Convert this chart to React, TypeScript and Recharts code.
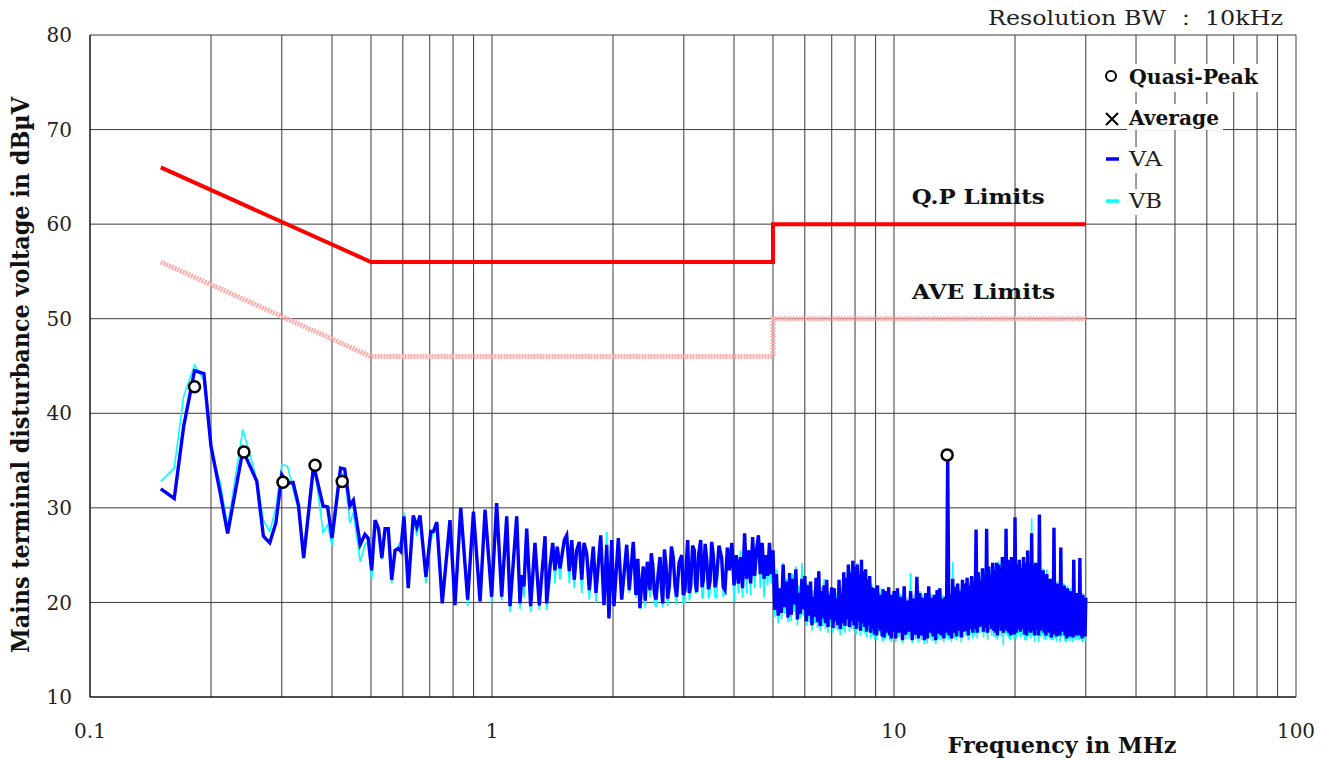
import React from 'react';
import {
    ComposedChart,
    Line,
    Scatter,
    XAxis,
    YAxis,
    CartesianGrid,
    Legend,
    ReferenceDot
} from 'recharts';

const FONT = "'DejaVu Serif', serif";

// measured sweep, MHz
const FREQ_MHZ = [
    0.15, 0.162, 0.171, 0.182, 0.192, 0.2, 0.211, 0.22, 0.24, 0.26,
    0.27, 0.28, 0.29, 0.3, 0.31, 0.32, 0.33, 0.34, 0.36, 0.38,
    0.39, 0.4, 0.42, 0.43, 0.443, 0.452, 0.47, 0.483, 0.492, 0.502,
    0.512, 0.522, 0.532, 0.542, 0.552, 0.563, 0.574, 0.585, 0.593, 0.604,
    0.619, 0.637, 0.65, 0.662, 0.685, 0.704, 0.715, 0.729, 0.752, 0.786,
    0.809, 0.836, 0.87, 0.899, 0.934, 0.961, 0.998, 1.027, 1.057, 1.088,
    1.109, 1.152, 1.174, 1.186, 1.201, 1.22, 1.248, 1.279, 1.311, 1.355,
    1.368, 1.394, 1.416, 1.434, 1.453, 1.476, 1.513, 1.534, 1.557, 1.579,
    1.602, 1.624, 1.649, 1.672, 1.694, 1.72, 1.746, 1.786, 1.814, 1.864,
    1.899, 1.929, 1.954, 1.985, 2.011, 2.062, 2.102, 2.163, 2.195, 2.246,
    2.281, 2.305, 2.334, 2.357, 2.379, 2.405, 2.434, 2.472, 2.49, 2.511,
    2.535, 2.559, 2.59, 2.618, 2.64, 2.659, 2.685, 2.709, 2.735, 2.761,
    2.795, 2.825, 2.852, 2.88, 2.92, 2.964, 2.99, 3.021, 3.045, 3.068,
    3.095, 3.121, 3.155, 3.186, 3.208, 3.23, 3.268, 3.305, 3.33, 3.355,
    3.39, 3.421, 3.455, 3.486, 3.52, 3.552, 3.588, 3.622, 3.67, 3.727,
    3.76, 3.798, 3.85, 3.894, 3.95, 4.0,
    4.05, 4.1, 4.15, 4.2, 4.25, 4.3, 4.35, 4.4, 4.45, 4.5,
    4.55, 4.6, 4.65, 4.7, 4.75, 4.8, 4.85, 4.9, 4.95, 5.0,
    5.05, 5.1, 5.15, 5.2, 5.25, 5.3, 5.35, 5.4, 5.45, 5.5,
    5.55, 5.6, 5.65, 5.7, 5.75, 5.8, 5.85, 5.9, 5.95, 6.0,
    6.05, 6.1, 6.15, 6.2, 6.25, 6.3, 6.35, 6.4, 6.45, 6.5,
    6.55, 6.6, 6.65, 6.7, 6.75, 6.8, 6.85, 6.9, 6.95, 7.0,
    7.05, 7.1, 7.15, 7.2, 7.25, 7.3, 7.35, 7.4, 7.45, 7.5,
    7.55, 7.6, 7.65, 7.7, 7.75, 7.8, 7.85, 7.9, 7.95, 8.0,
    8.05, 8.1, 8.15, 8.2, 8.25, 8.3, 8.35, 8.4, 8.45, 8.5,
    8.55, 8.6, 8.65, 8.7, 8.75, 8.8, 8.85, 8.9, 8.95, 9.0,
    9.05, 9.1, 9.15, 9.2, 9.25, 9.3, 9.35, 9.4, 9.45, 9.5,
    9.55, 9.6, 9.65, 9.7, 9.75, 9.8, 9.85, 9.9, 9.95, 10.0,
    10.1, 10.2, 10.3, 10.4, 10.5, 10.6, 10.7, 10.8, 10.9, 11.0,
    11.1, 11.2, 11.3, 11.4, 11.5, 11.6, 11.7, 11.8, 11.9, 12.0,
    12.1, 12.2, 12.3, 12.4, 12.5, 12.6, 12.7, 12.8, 12.9, 13.0,
    13.1, 13.2, 13.3, 13.4, 13.5, 13.6, 13.7, 13.8, 13.9, 14.0,
    14.1, 14.2, 14.3, 14.4, 14.5, 14.6, 14.7, 14.8, 14.9, 15.0,
    15.1, 15.2, 15.3, 15.4, 15.5, 15.6, 15.7, 15.8, 15.9, 16.0,
    16.1, 16.2, 16.3, 16.4, 16.5, 16.6, 16.7, 16.8, 16.9, 17.0,
    17.1, 17.2, 17.3, 17.4, 17.5, 17.6, 17.7, 17.8, 17.9, 18.0,
    18.1, 18.2, 18.3, 18.4, 18.5, 18.6, 18.7, 18.8, 18.9, 19.0,
    19.1, 19.2, 19.3, 19.4, 19.5, 19.6, 19.7, 19.8, 19.9, 20.0,
    20.125, 20.25, 20.375, 20.5, 20.625, 20.75, 20.875, 21.0, 21.125, 21.25,
    21.375, 21.5, 21.625, 21.75, 21.875, 22.0, 22.125, 22.25, 22.375, 22.5,
    22.625, 22.75, 22.875, 23.0, 23.125, 23.25, 23.375, 23.5, 23.625, 23.75,
    23.875, 24.0, 24.125, 24.25, 24.375, 24.5, 24.625, 24.75, 24.875, 25.0,
    25.125, 25.25, 25.375, 25.5, 25.625, 25.75, 25.875, 26.0, 26.125, 26.25,
    26.375, 26.5, 26.625, 26.75, 26.875, 27.0, 27.125, 27.25, 27.375, 27.5,
    27.625, 27.75, 27.875, 28.0, 28.125, 28.25, 28.375, 28.5, 28.625, 28.75,
    28.875, 29.0, 29.125, 29.25, 29.375, 29.5, 29.625, 29.75, 29.875, 30.0
];

// dBuV, line VA
const VA_LEVEL = [
    32.0, 31.0, 38.6, 44.5, 44.2, 36.5, 31.5, 27.3, 36.1, 32.8,
    27.0, 26.3, 28.4, 33.5, 32.6, 32.7, 30.3, 24.7, 34.5, 30.2,
    30.1, 26.8, 34.2, 34.1, 30.2, 30.8, 26.1, 27.2, 26.8, 23.4,
    28.7, 27.8, 24.7, 27.8, 27.8, 22.4, 25.5, 25.7, 25.4, 29.1,
    21.5, 29.2, 28.0, 29.2, 22.7, 27.5, 27.5, 28.5, 19.9, 28.7,
    19.7, 30.0, 20.3, 29.6, 20.1, 29.8, 20.6, 30.5, 20.6, 29.1,
    19.6, 29.1, 19.9, 22.9, 21.7, 27.8, 19.6, 26.3, 19.7, 27.0,
    19.9, 23.8, 26.3, 23.4, 25.9, 23.6, 26.6, 27.1, 23.3, 26.6,
    22.4, 25.5, 26.4, 22.4, 26.3, 25.2, 21.3, 25.9, 21.0, 27.1,
    19.7, 26.1, 18.3, 26.6, 19.6, 26.8, 20.3, 26.1, 21.3, 26.4,
    20.8, 24.6, 19.4, 22.0, 23.8, 20.2, 24.3, 21.3, 25.2, 24.0,
    21.0, 20.3, 23.0, 24.8, 21.5, 19.9, 25.6, 24.0, 20.4, 21.7,
    25.9, 24.7, 21.8, 20.6, 24.2, 25.0, 20.8, 21.3, 24.4, 26.6,
    21.0, 21.7, 26.0, 25.5, 22.0, 21.1, 25.2, 26.6, 21.6, 22.4,
    26.2, 24.5, 21.4, 22.2, 26.4, 25.0, 21.6, 22.7, 26.0, 24.7,
    21.6, 21.3, 25.8, 23.4, 26.3, 21.8,
    25.0, 22.0, 24.8, 21.5, 27.3, 22.5, 25.5, 22.0, 26.9, 22.8,
    25.5, 27.1, 23.0, 26.3, 22.5, 25.0, 22.8, 26.3, 23.0, 25.5,
    19.2, 23.0, 18.6, 21.5, 18.9, 24.0, 19.5, 22.2, 18.4, 23.1,
    18.7, 22.5, 19.8, 23.5, 18.2, 21.0, 18.8, 22.5, 19.3, 22.8,
    18.0, 21.8, 18.6, 22.2, 17.6, 20.6, 18.5, 22.6, 17.9, 23.3,
    17.5, 21.2, 18.3, 21.8, 17.8, 22.4, 17.4, 20.8, 18.2, 21.6,
    17.3, 21.5, 18.0, 20.4, 17.6, 22.4, 17.2, 21.0, 17.8, 23.2,
    17.5, 22.6, 18.2, 24.0, 17.4, 23.2, 18.0, 24.4, 17.6, 23.8,
    17.2, 24.0, 18.0, 23.0, 17.0, 24.5, 17.8, 23.3, 17.4, 23.5,
    16.9, 22.4, 17.6, 22.8, 16.8, 21.6, 17.2, 21.5, 16.6, 21.2,
    16.5, 21.8, 17.3, 20.6, 17.0, 20.8, 16.4, 21.4, 16.3, 21.2,
    16.8, 20.4, 17.2, 21.6, 16.5, 20.2, 16.2, 20.8, 16.9, 21.2,
    16.2, 21.5, 16.8, 20.6, 16.0, 21.7, 16.6, 20.2, 16.9, 21.2,
    16.0, 20.4, 16.6, 22.7, 16.2, 21.0, 16.5, 20.5, 16.0, 21.0,
    16.2, 21.7, 16.8, 20.5, 16.4, 20.8, 16.0, 21.3, 16.7, 21.5,
    16.5, 20.4, 16.2, 20.6, 16.8, 35.2, 16.5, 20.8, 16.2, 22.5,
    16.8, 21.6, 16.4, 22.0, 17.0, 21.2, 16.3, 22.4, 16.9, 22.0,
    17.0, 22.6, 16.5, 21.8, 17.2, 22.8, 16.8, 22.2, 17.2, 27.7,
    16.8, 23.2, 17.4, 22.4, 17.5, 23.6, 16.9, 23.0, 17.3, 27.8,
    16.8, 23.8, 17.6, 23.0, 17.2, 24.2, 17.0, 23.4, 16.8, 24.2,
    16.5, 24.0, 17.5, 23.6, 17.0, 24.8, 16.8, 24.0, 17.3, 27.8,
    17.0, 24.5, 16.8, 23.8, 16.5, 24.8, 17.2, 24.2, 16.6, 29.0,
    16.8, 24.0, 17.2, 24.5, 16.9, 23.6, 17.2, 24.8, 16.6, 24.2,
    16.5, 25.5, 17.0, 24.0, 16.8, 27.3, 17.0, 23.8, 16.5, 24.2,
    17.2, 23.5, 16.5, 29.3, 17.0, 23.0, 17.2, 23.4, 16.8, 22.8,
    16.5, 23.0, 17.0, 22.2, 16.8, 22.5, 16.3, 22.0, 16.6, 27.9,
    16.8, 21.8, 16.4, 22.0, 17.0, 21.5, 16.5, 25.8, 16.9, 21.6,
    17.0, 21.8, 16.5, 21.2, 16.2, 21.5, 16.8, 21.0, 16.4, 21.2,
    16.8, 20.8, 16.3, 24.5, 16.8, 20.6, 16.5, 21.0, 16.9, 20.4,
    16.5, 24.7, 16.8, 20.6, 16.2, 20.8, 16.9, 20.2, 16.4, 20.5
];

// dBuV, line VB
const VB_LEVEL = [
    32.8, 34.2, 41.8, 45.1, 43.5, 36.0, 32.6, 28.0, 38.3, 33.0,
    28.7, 27.5, 30.0, 34.6, 34.4, 32.0, 29.8, 24.9, 35.2, 27.4,
    28.2, 26.0, 33.6, 33.5, 28.4, 29.5, 24.3, 26.1, 26.5, 22.4,
    28.0, 27.5, 24.5, 27.8, 27.6, 22.0, 25.2, 26.0, 26.5, 29.5,
    22.5, 29.2, 27.0, 29.0, 22.0, 26.5, 27.5, 28.5, 20.3, 28.5,
    19.7, 29.8, 19.6, 29.6, 20.1, 29.8, 20.0, 30.5, 20.2, 29.1,
    19.0, 29.1, 19.3, 22.9, 20.5, 27.8, 19.0, 26.3, 19.2, 27.0,
    19.2, 22.5, 26.3, 22.0, 25.9, 22.4, 26.6, 27.0, 22.0, 26.2,
    21.5, 25.3, 26.2, 21.0, 26.0, 25.0, 20.3, 25.8, 20.0, 27.1,
    19.8, 27.5, 18.5, 26.6, 20.0, 26.8, 20.5, 26.1, 21.0, 26.3,
    20.5, 24.6, 19.3, 21.2, 23.8, 19.4, 24.0, 20.5, 25.2, 24.0,
    20.0, 19.5, 22.5, 24.5, 20.6, 19.5, 25.6, 24.0, 19.6, 21.0,
    25.9, 24.7, 20.8, 19.8, 24.0, 25.0, 19.9, 20.0, 24.4, 26.6,
    20.2, 21.0, 26.0, 25.5, 21.0, 21.0, 25.2, 26.6, 20.5, 20.5,
    26.2, 24.5, 20.4, 21.0, 26.4, 25.0, 20.6, 20.5, 26.0, 24.7,
    20.6, 21.0, 25.8, 23.4, 26.0, 20.0,
    25.0, 21.0, 25.5, 20.5, 27.0, 21.0, 25.5, 20.8, 26.9, 21.5,
    25.0, 27.1, 21.5, 26.3, 20.5, 25.0, 21.8, 26.3, 22.0, 25.0,
    18.5, 23.5, 17.8, 21.0, 18.2, 24.2, 18.8, 22.5, 17.9, 23.0,
    18.0, 23.0, 19.0, 23.8, 17.6, 21.8, 18.3, 24.2, 18.6, 22.8,
    17.5, 22.0, 17.9, 22.0, 17.0, 21.3, 17.8, 22.6, 17.3, 23.3,
    17.0, 21.6, 17.5, 22.5, 17.2, 22.4, 16.8, 21.2, 17.5, 21.6,
    16.8, 21.5, 17.2, 21.0, 17.0, 22.4, 16.5, 21.6, 17.1, 23.0,
    16.8, 22.6, 17.5, 24.0, 16.9, 23.5, 17.2, 24.4, 17.0, 23.8,
    16.6, 24.2, 17.3, 23.4, 16.5, 24.5, 17.0, 23.3, 16.8, 23.5,
    16.3, 22.4, 17.0, 22.5, 16.2, 22.0, 16.5, 21.6, 16.0, 21.2,
    16.0, 21.8, 16.8, 21.0, 16.5, 21.5, 15.9, 21.4, 16.0, 21.2,
    16.2, 20.8, 16.6, 21.6, 16.0, 20.5, 15.8, 20.8, 16.3, 21.0,
    15.8, 21.0, 16.3, 20.9, 15.7, 21.7, 16.1, 20.5, 16.2, 23.1,
    15.7, 20.8, 16.1, 22.7, 15.8, 21.2, 16.0, 20.8, 15.6, 21.0,
    15.7, 21.5, 16.2, 20.9, 15.9, 20.8, 15.6, 21.3, 16.1, 21.5,
    16.0, 20.8, 15.8, 20.6, 16.2, 34.0, 16.0, 21.0, 15.8, 24.3,
    16.2, 21.8, 16.0, 22.0, 16.4, 21.5, 15.8, 22.4, 16.3, 22.0,
    16.5, 22.6, 16.0, 22.2, 16.6, 22.8, 16.2, 22.6, 16.5, 27.5,
    16.2, 23.2, 16.8, 22.8, 16.8, 23.6, 16.3, 23.5, 16.7, 27.6,
    16.0, 23.8, 17.0, 23.4, 16.5, 24.2, 16.4, 23.8, 16.2, 24.2,
    16.0, 24.4, 17.0, 24.0, 16.4, 24.8, 15.5, 24.4, 16.7, 27.8,
    16.5, 24.5, 16.2, 24.2, 16.0, 24.8, 16.5, 24.5, 16.0, 28.8,
    16.2, 24.0, 16.6, 24.5, 16.3, 24.0, 16.5, 24.8, 16.0, 24.2,
    16.0, 25.5, 16.4, 24.2, 16.2, 28.9, 16.5, 24.0, 15.9, 24.2,
    16.6, 23.5, 15.8, 29.0, 16.4, 23.4, 16.5, 23.6, 16.1, 23.0,
    16.0, 23.5, 16.4, 22.5, 16.2, 22.5, 16.0, 22.3, 16.0, 27.9,
    16.2, 22.0, 15.9, 22.3, 16.4, 21.8, 15.8, 25.8, 16.3, 22.0,
    16.5, 22.0, 15.9, 21.5, 15.8, 21.8, 16.2, 21.4, 15.9, 21.5,
    16.2, 21.0, 15.8, 24.5, 16.2, 21.0, 16.0, 21.0, 16.3, 20.8,
    16.0, 24.7, 16.2, 20.8, 15.8, 21.0, 16.3, 20.5, 15.9, 20.5
];

const QP_FREQ = [0.182, 0.2415, 0.302, 0.363, 0.424, 13.56];
const QP_LEVEL = [42.8, 35.9, 32.7, 34.5, 32.8, 35.6];

const QP_LIMIT_FREQ = [0.15, 0.5, 5, 5, 30];
const QP_LIMIT_LEVEL = [66, 56, 56, 60, 60];
const AVE_LIMIT_FREQ = [0.15, 0.5, 5, 5, 30];
const AVE_LIMIT_LEVEL = [56, 46, 46, 50, 50];

const X_TICKS = [
    0.1, 0.2, 0.3, 0.4, 0.5, 0.6, 0.7, 0.8, 0.9,
    1, 2, 3, 4, 5, 6, 7, 8, 9,
    10, 20, 30, 40, 50, 60, 70, 80, 90, 100
];
const X_LABELS: Record<string, string> = { '0.1': '0.1', '1': '1', '10': '10', '100': '100' };
const Y_TICKS = [10, 20, 30, 40, 50, 60, 70, 80];

const trace = FREQ_MHZ.map((f, i) => ({ f, va: VA_LEVEL[i], vb: VB_LEVEL[i] }));
const qpMarks = QP_FREQ.map((f, i) => ({ f, level: QP_LEVEL[i] }));
const qpLimit = QP_LIMIT_FREQ.map((f, i) => ({ f, level: QP_LIMIT_LEVEL[i] }));
const aveLimit = AVE_LIMIT_FREQ.map((f, i) => ({ f, level: AVE_LIMIT_LEVEL[i] }));

const renderYTitle = () => (
    <text
        transform="translate(29,375) rotate(-90)"
        textAnchor="middle"
        fontFamily={FONT}
        fontSize={24}
        fontWeight="bold"
        fill="#111"
        textLength={556}
        lengthAdjust="spacingAndGlyphs"
    >
        Mains terminal disturbance voltage in dBµV
    </text>
);

const renderXTitle = () => (
    <g>
        <text x={1062} y={753} textAnchor="middle" fontFamily={FONT} fontSize={23} fontWeight="bold"
            fill="#111" textLength={229} lengthAdjust="spacingAndGlyphs">
            Frequency in MHz
        </text>
        <text x={988} y={25} fontFamily={FONT} fontSize={20} fill="#222"
            textLength={295} lengthAdjust="spacingAndGlyphs">
            Resolution BW ： 10kHz
        </text>
    </g>
);

const limitLabel = (text: string, width: number) => (props: any) => {
    const { viewBox } = props;
    return (
        <text x={viewBox.x} y={viewBox.y} textAnchor="middle" fontFamily={FONT} fontSize={20}
            fontWeight="bold" fill="#111" textLength={width} lengthAdjust="spacingAndGlyphs">
            {text}
        </text>
    );
};

const LegendBox = () => (
    <svg width={200} height={160} style={{ display: 'block' }}>
        <rect x={29} y={4} width={136} height={28} fill="#fff" />
        <rect x={29} y={44} width={96} height={26} fill="#fff" />
        <rect x={29} y={87} width={38} height={26} fill="#fff" />
        <rect x={29} y={129} width={38} height={26} fill="#fff" />
        <circle cx={13} cy={16} r={5} fill="#fff" stroke="#000" strokeWidth={2} />
        <text x={31} y={24} fontFamily={FONT} fontSize={20} fontWeight="bold" fill="#111"
            textLength={129} lengthAdjust="spacingAndGlyphs">Quasi-Peak</text>
        <path d="M8,53L20,65M8,65L20,53" stroke="#000" strokeWidth={2} />
        <text x={31} y={65} fontFamily={FONT} fontSize={20} fontWeight="bold" fill="#111"
            textLength={90} lengthAdjust="spacingAndGlyphs">Average</text>
        <line x1={8} y1={99} x2={21} y2={99} stroke="#0000ff" strokeWidth={3.5} />
        <text x={31} y={106} fontFamily={FONT} fontSize={20} fill="#222"
            textLength={33} lengthAdjust="spacingAndGlyphs">VA</text>
        <line x1={8} y1={141} x2={21} y2={141} stroke="#00ffff" strokeWidth={3.5} />
        <text x={31} y={148} fontFamily={FONT} fontSize={20} fill="#222"
            textLength={33} lengthAdjust="spacingAndGlyphs">VB</text>
    </svg>
);

const App: React.FC = () => {
    return (
        <div style={{ position: 'absolute', left: 0, top: 0, width: 1332, height: 760, background: '#fff' }}>
            <ComposedChart width={1332} height={760} margin={{ top: 35, right: 36, bottom: 0, left: 0 }}>
                <CartesianGrid stroke="#3a3a3a" strokeWidth={1} />
                <XAxis
                    dataKey="f"
                    type="number"
                    scale="log"
                    domain={[0.1, 100]}
                    allowDataOverflow
                    ticks={X_TICKS}
                    interval={0}
                    height={63}
                    tickLine={false}
                    tickSize={0}
                    tickMargin={27}
                    axisLine={{ stroke: '#000' }}
                    tick={{ fontFamily: FONT, fontSize: 20, fill: '#222' }}
                    tickFormatter={(v: number) => X_LABELS[String(v)] ?? ''}
                    label={renderXTitle}
                />
                <YAxis
                    type="number"
                    domain={[10, 80]}
                    ticks={Y_TICKS}
                    interval={0}
                    width={90}
                    tickLine={false}
                    tickSize={0}
                    tickMargin={18}
                    axisLine={{ stroke: '#000' }}
                    tick={{ fontFamily: FONT, fontSize: 20, fill: '#222' }}
                    label={renderYTitle}
                />
                <Line data={aveLimit} dataKey="level" type="linear" stroke="#ffacac" strokeWidth={5}
                    strokeDasharray="2 1" dot={false} isAnimationActive={false} />
                <Line data={qpLimit} dataKey="level" type="linear" stroke="#ff0000" strokeWidth={4}
                    dot={false} isAnimationActive={false} />
                <Line data={trace} dataKey="vb" type="linear" stroke="#00ffff" strokeWidth={1.6}
                    dot={false} isAnimationActive={false} />
                <Line data={trace} dataKey="va" type="linear" stroke="#0000ff" strokeWidth={3.4}
                    dot={false} isAnimationActive={false} />
                <Scatter
                    data={qpMarks}
                    dataKey="level"
                    isAnimationActive={false}
                    shape={(p: any) => (
                        <circle cx={p.cx} cy={p.cy} r={5.5} fill="#fff" stroke="#000" strokeWidth={2.5} />
                    )}
                />
                <ReferenceDot x={16.2} y={62.1} r={0} stroke="none" fill="none" label={limitLabel('Q.P Limits', 133)} />
                <ReferenceDot x={16.7} y={52.1} r={0} stroke="none" fill="none" label={limitLabel('AVE Limits', 143)} />
                <Legend
                    layout="vertical"
                    align="center"
                    verticalAlign="middle"
                    content={() => <LegendBox />}
                    wrapperStyle={{ position: 'absolute', left: 1098, top: 60, width: 200, height: 160 }}
                />
            </ComposedChart>
        </div>
    );
};

export default App;
